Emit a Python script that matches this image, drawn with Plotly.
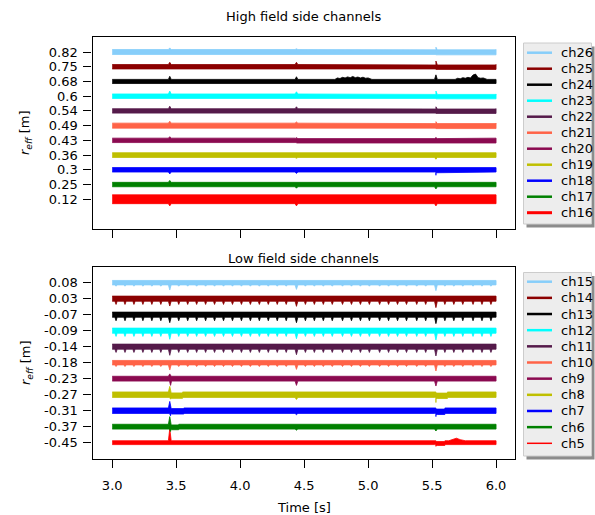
import plotly.graph_objects as go

# ---------------- data ----------------
x_ticks = [3.0, 3.5, 4.0, 4.5, 5.0, 5.5, 6.0]
x_tick_labels = ["3.0", "3.5", "4.0", "4.5", "5.0", "5.5", "6.0"]
t_start, t_end = 3.0, 6.0
event_times = [3.45, 4.44, 5.53]
comb_times = [3.03, 3.10, 3.17, 3.24, 3.31, 3.38, 3.52, 3.59, 3.66, 3.73, 3.80,
              3.87, 3.94, 4.01, 4.08, 4.15, 4.22, 4.29, 4.36, 4.51, 4.58, 4.65,
              4.72, 4.80, 4.87, 4.94, 5.01, 5.09, 5.16, 5.23, 5.30, 5.38, 5.45,
              5.60, 5.67, 5.74, 5.82, 5.89, 5.96]

# top panel (listed bottom -> top); offsets in channel-spacing units
top_names = ["ch16", "ch17", "ch18", "ch19", "ch20", "ch21", "ch22", "ch23", "ch24", "ch25", "ch26"]
top_tick_labels = ["0.12", "0.25", "0.3", "0.36", "0.43", "0.49", "0.54", "0.6", "0.68", "0.75", "0.82"]
top_colors = ["#ff0000", "#008000", "#0000ff", "#bfbf00", "#8b0a50", "#ff6347",
              "#551a4a", "#00ffff", "#000000", "#8b0000", "#87cefa"]
top_band = [0.30, 0.15, 0.15, 0.16, 0.15, 0.17, 0.15, 0.15, 0.14, 0.15, 0.17]
top_legend_widths = [3, 2.5, 2.5, 2.5, 2.5, 2.5, 2.5, 2.5, 2.5, 2.5, 2.5]
top_event_amps = [[-0.45, -0.45, -0.45], [0.28, -0.25, -0.3], [-0.28, -0.25, -0.32],
                  [0.2, -0.22, -0.28], [0.25, 0.22, 0.22], [0.3, 0.25, 0.3],
                  [0.32, 0.28, 0.3], [0.35, 0.3, 0.38], [0.35, 0.32, 0.45],
                  [0.3, 0.3, 0.42], [0.28, 0.22, 0.35]]
top_comb_depth = [0, 0, 0, 0, 0, 0, 0, 0, 0, 0, 0]
top_plateaus = [[], [], [(5.53, 5.6, -0.05)], [], [(4.44, 6.0, -0.03)],
                [(5.53, 6.0, -0.03)], [(5.53, 6.0, -0.02)], [(5.53, 6.0, -0.03)],
                [], [(5.53, 6.0, -0.03)], [(5.53, 6.0, -0.02)]]
top_upper_extra = [[], [], [], [], [], [], [], [],
                   [(4.74, 0.0), (4.76, 0.1), (4.78, 0.06), (4.80, 0.14), (4.82, 0.1),
                    (4.84, 0.17), (4.86, 0.12), (4.88, 0.2), (4.90, 0.12), (4.92, 0.16),
                    (4.94, 0.1), (4.96, 0.15), (4.98, 0.08), (5.00, 0.1), (5.03, 0.0),
                    (5.68, 0.0), (5.70, 0.08), (5.72, 0.04), (5.74, 0.12), (5.76, 0.08),
                    (5.78, 0.14), (5.80, 0.1), (5.82, 0.3), (5.84, 0.36), (5.86, 0.12),
                    (5.88, 0.08), (5.90, 0.1), (5.93, 0.0)], [], []]

# bottom panel (listed bottom -> top)
bot_names = ["ch5", "ch6", "ch7", "ch8", "ch9", "ch10", "ch11", "ch12", "ch13", "ch14", "ch15"]
bot_tick_labels = ["-0.45", "-0.37", "-0.31", "-0.27", "-0.23", "-0.18", "-0.14", "-0.09", "-0.07", "0.03", "0.08"]
bot_colors = top_colors
bot_band = [0.12, 0.15, 0.17, 0.17, 0.15, 0.14, 0.16, 0.16, 0.16, 0.16, 0.14]
bot_legend_widths = [1.5, 2.5, 2.5, 2.5, 2.5, 2.5, 2.5, 2.5, 2.5, 2.5, 2.5]
bot_event_amps = [[0.88, 0.0, -0.18], [0.63, -0.22, -0.27], [0.58, -0.25, -0.3],
                  [0.52, -0.3, -0.42], [0.3, -0.42, -0.46], [-0.46, -0.42, -0.52],
                  [-0.54, -0.5, -0.58], [-0.54, -0.5, -0.58], [-0.5, -0.5, -0.56],
                  [-0.46, -0.48, -0.56], [-0.46, -0.42, -0.5]]
bot_comb_depth = [0, 0, 0, 0, 0, 0.24, 0.36, 0.36, 0.38, 0.36, 0.22]
bot_plateaus = [[(5.53, 5.6, -0.05)], [(3.46, 3.52, -0.04)],
                [(3.46, 3.56, -0.04), (5.53, 5.6, -0.07)],
                [(3.46, 3.55, -0.06), (5.53, 5.62, -0.07)], [], [], [], [], [], [], []]
bot_extra_spikes = [[], [(3.456, -0.3)], [(3.456, -0.32)], [(3.456, -0.28)],
                    [(3.456, -0.42)], [], [], [], [], [], []]
bot_upper_extra = [[(5.63, 0.0), (5.66, 0.06), (5.69, 0.16), (5.72, 0.07), (5.76, 0.0)],
                   [], [], [], [], [], [], [], [], [], []]


# ---------------- build filled bands ----------------
def build_band(level, hw, ev_amps, comb_d, plateaus, extra_spikes, upper_extra):
    def base(t):
        v = level
        for (a, b, h) in plateaus:
            if a <= t < b:
                v += h
        return v

    knots = [t_start, t_end]
    for (a, b, h) in plateaus:
        knots += [a - 1e-4, a, b - 1e-4, b]
    upper = [(t, base(t) + hw) for t in knots if t_start <= t <= t_end]
    lower = [(t, base(t) - hw) for t in knots if t_start <= t <= t_end]
    spikes = [(t, a, 0.011) for t, a in zip(event_times, ev_amps)]
    spikes += [(t, a, 0.008) for t, a in extra_spikes]
    if comb_d:
        spikes += [(t, -comb_d, 0.009) for t in comb_times]
    for (t, a, w) in spikes:
        if a > hw:
            upper += [(t - w, base(t - w) + hw), (t, base(t) + a), (t + w, base(t + w) + hw)]
        elif a < -hw:
            lower += [(t - w, base(t - w) - hw), (t, base(t) + a), (t + w, base(t + w) - hw)]
    for (t, h) in upper_extra:
        upper.append((t, base(t) + hw + h))
    upper.sort()
    lower.sort(reverse=True)
    pts = upper + lower
    return [p[0] for p in pts], [p[1] for p in pts]


fig = go.Figure()
for i in range(11):
    xs, ys = build_band(i, top_band[i], top_event_amps[i], top_comb_depth[i],
                        top_plateaus[i], [], top_upper_extra[i])
    fig.add_trace(go.Scatter(x=xs, y=ys, mode="lines", name=top_names[i], fill="toself",
                             fillcolor=top_colors[i], line=dict(color=top_colors[i], width=0.8),
                             xaxis="x", yaxis="y", hoverinfo="skip", showlegend=False))
for i in range(11):
    xs, ys = build_band(i, bot_band[i], bot_event_amps[i], bot_comb_depth[i],
                        bot_plateaus[i], bot_extra_spikes[i], bot_upper_extra[i])
    fig.add_trace(go.Scatter(x=xs, y=ys, mode="lines", name=bot_names[i], fill="toself",
                             fillcolor=bot_colors[i], line=dict(color=bot_colors[i], width=0.8),
                             xaxis="x2", yaxis="y2", hoverinfo="skip", showlegend=False))

W, H = 595, 515
FONT = "DejaVu Sans"
FS = 13


def px(x):
    return x / W


def py(y):
    return 1 - y / H


axis_common = dict(showline=True, mirror=True, linecolor="black", linewidth=1.3,
                   ticks="outside", ticklen=8, tickwidth=1.3, tickcolor="black",
                   showgrid=False, zeroline=False,
                   tickfont=dict(family=FONT, size=FS, color="black"))
dom_x = [px(92.5), px(515)]
fig.update_layout(
    width=W, height=H, margin=dict(l=0, r=0, t=0, b=0),
    paper_bgcolor="white", plot_bgcolor="white", showlegend=False,
    xaxis=dict(domain=dom_x, range=[2.846, 6.148], anchor="y", tickvals=x_ticks,
               showticklabels=False, **axis_common),
    yaxis=dict(domain=[py(229), py(37)], range=[-2.02, 11.02], anchor="x",
               tickvals=list(range(11)), ticktext=top_tick_labels, ticklabelstandoff=3, **axis_common),
    xaxis2=dict(domain=dom_x, range=[2.846, 6.148], anchor="y2", tickvals=x_ticks,
                ticktext=x_tick_labels, ticklabelstandoff=6, **axis_common),
    yaxis2=dict(domain=[py(459), py(267)], range=[-1.02, 10.98], anchor="x2",
                tickvals=list(range(11)), ticktext=bot_tick_labels, ticklabelstandoff=3, **axis_common),
)

ann = []
shapes = []


def text(x, y, s, angle=0, xanchor="center"):
    ann.append(dict(x=px(x), y=py(y), xref="paper", yref="paper", text=s, showarrow=False,
                    textangle=angle, xanchor=xanchor, yanchor="middle",
                    font=dict(family=FONT, size=FS, color="black")))


text(303.5, 16.5, "High field side channels")
text(303.5, 258, "Low field side channels")
text(303.5, 507, "Time [s]")
ylab = "<i>r</i><sub><i>eff</i></sub> [m]"
text(26, 133, ylab, angle=-90)
text(26, 363, ylab, angle=-90)


def legend(top, bottom, first_y, step, names, colors, widths):
    shapes.append(dict(type="rect", xref="paper", yref="paper", x0=px(526.5), x1=px(594.5),
                       y0=py(bottom + 3.5), y1=py(top + 3.5), fillcolor="#8c8c8c", line=dict(width=0)))
    shapes.append(dict(type="rect", xref="paper", yref="paper", x0=px(523.5), x1=px(591.5),
                       y0=py(bottom), y1=py(top), fillcolor="#ededed", line=dict(color="#cccccc", width=1)))
    n = len(names)
    for k in range(n):
        i = n - 1 - k
        yy = first_y + step * k
        shapes.append(dict(type="line", xref="paper", yref="paper", x0=px(527), x1=px(552),
                           y0=py(yy), y1=py(yy), line=dict(color=colors[i], width=widths[i])))
        text(559, yy, names[i], xanchor="left")


legend(43, 224, 52.7, 16.0, top_names, top_colors, top_legend_widths)
legend(272.5, 456, 281.7, 16.16, bot_names, bot_colors, bot_legend_widths)

fig.update_layout(annotations=ann, shapes=shapes)
fig.write_html("out.html")
